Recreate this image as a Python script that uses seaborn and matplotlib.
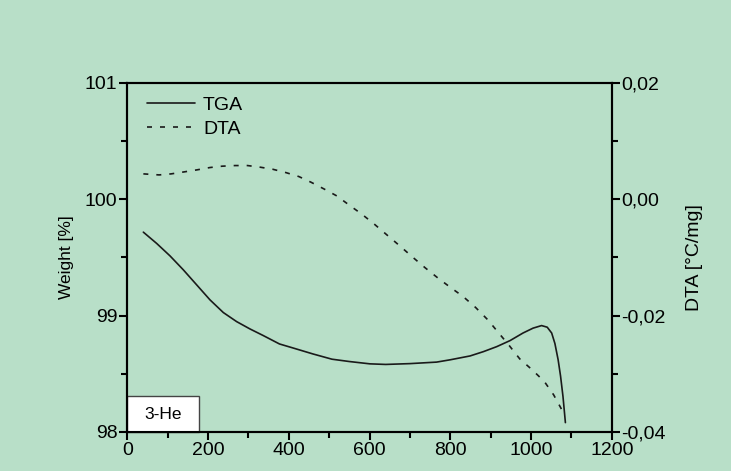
import numpy as np
import pandas as pd
import matplotlib
matplotlib.use('Agg')
import matplotlib.pyplot as plt
from matplotlib.patches import Rectangle
from matplotlib.ticker import MultipleLocator, FuncFormatter
import seaborn as sns

# TGA curve (temperature in degC, weight in %)
tga_temp = [40, 73, 106, 139, 172, 205, 238, 271, 304, 337, 377, 412, 460, 507,
            550, 601, 640, 700, 766, 800, 849, 882, 915, 948, 980, 1005, 1026,
            1040, 1051, 1059, 1067, 1073, 1079, 1085]
tga_weight = [99.717, 99.62, 99.513, 99.393, 99.264, 99.135, 99.026, 98.948,
              98.885, 98.828, 98.756, 98.72, 98.67, 98.625, 98.605, 98.585,
              98.58, 98.587, 98.60, 98.62, 98.653, 98.69, 98.733, 98.785, 98.85,
              98.892, 98.914, 98.90, 98.85, 98.76, 98.62, 98.48, 98.305, 98.08]

# DTA curve (temperature in degC, signal in degC/mg)
dta_temp = [40, 79, 109, 141, 172, 205, 235, 267, 298, 329, 360, 393, 425, 455,
            487, 519, 549, 581, 612, 643, 675, 707, 738, 770, 801, 832, 863, 893,
            919, 946, 972, 1003, 1033, 1056, 1074, 1079]
dta_value = [0.00436, 0.00418, 0.00436, 0.00470, 0.00504, 0.00545, 0.00568,
             0.00579, 0.00579, 0.00551, 0.00516, 0.00458, 0.00390, 0.00293,
             0.00178, 0.00057, -0.00097, -0.00257, -0.00429, -0.00613, -0.00802,
             -0.00997, -0.01180, -0.01358, -0.01519, -0.01674, -0.01863, -0.02074,
             -0.02292, -0.02516, -0.02745, -0.02934, -0.03135, -0.03364, -0.03592,
             -0.03690]

bg = '#b8dfc8'
sns.set_style('ticks', {'axes.facecolor': bg, 'figure.facecolor': bg,
                        'axes.edgecolor': 'black', 'xtick.color': 'black',
                        'ytick.color': 'black', 'text.color': 'black',
                        'axes.labelcolor': 'black'})
plt.rcParams['font.family'] = ['Liberation Sans', 'DejaVu Sans']

tga = pd.DataFrame({'T': tga_temp, 'W': tga_weight})
dta = pd.DataFrame({'T': dta_temp, 'D': dta_value})

fig, ax = plt.subplots(figsize=(7.31, 4.71), dpi=100)
fig.subplots_adjust(left=0.174, right=0.837, top=0.824, bottom=0.083)
ax2 = ax.twinx()

dash = [3, 4.8]
sns.lineplot(data=tga, x='T', y='W', ax=ax, color='#1a1a1a', linewidth=1.2, label='TGA', legend=False)
sns.lineplot(data=dta, x='T', y='D', ax=ax2, color='#1a1a1a', linewidth=1.2, legend=False)
ax2.lines[0].set_dashes(dash)
# legend entry for DTA on the main axes
ax.plot([], [], color='#1a1a1a', linewidth=1.2, dashes=dash, label='DTA')

ax.set_xlim(0, 1200)
ax.set_ylim(98, 101)
ax2.set_ylim(-0.04, 0.02)

ax.xaxis.set_major_locator(MultipleLocator(200))
ax.xaxis.set_minor_locator(MultipleLocator(100))
ax.yaxis.set_major_locator(MultipleLocator(1))
ax.yaxis.set_minor_locator(MultipleLocator(0.5))
ax2.yaxis.set_major_locator(MultipleLocator(0.02))
ax2.yaxis.set_minor_locator(MultipleLocator(0.01))
ax2.yaxis.set_major_formatter(FuncFormatter(lambda v, p: ('%.2f' % v).replace('.', ',').replace('-0,00', '0,00')))

for a in (ax, ax2):
    for s in a.spines.values():
        s.set_linewidth(1.5)
        s.set_visible(True)
    a.tick_params(which='major', length=6, width=1.5, labelsize=14, direction='out', pad=1)
    a.tick_params(which='minor', length=4, width=1.5, direction='out')

ax.set_xlabel('')
ax.set_ylabel('Weight [%]', fontsize=12.5, labelpad=8)
ax2.set_ylabel('DTA [°C/mg]', fontsize=14, labelpad=14)

ax.legend(loc='upper left', frameon=False, fontsize=14, handlelength=2.5,
          borderaxespad=0.25, labelspacing=0.3, handletextpad=0.4, borderpad=0.45,
          bbox_to_anchor=(0.012, 1.0))

ax.add_patch(Rectangle((0, 0), 0.148, 0.103, transform=ax.transAxes, facecolor='white',
                       edgecolor='#444444', linewidth=1, zorder=5, clip_on=False))
ax.text(0.074, 0.051, '3-He', transform=ax.transAxes, fontsize=12.5, ha='center',
        va='center', zorder=6)

fig.savefig('out.png', dpi=100, facecolor=bg)
